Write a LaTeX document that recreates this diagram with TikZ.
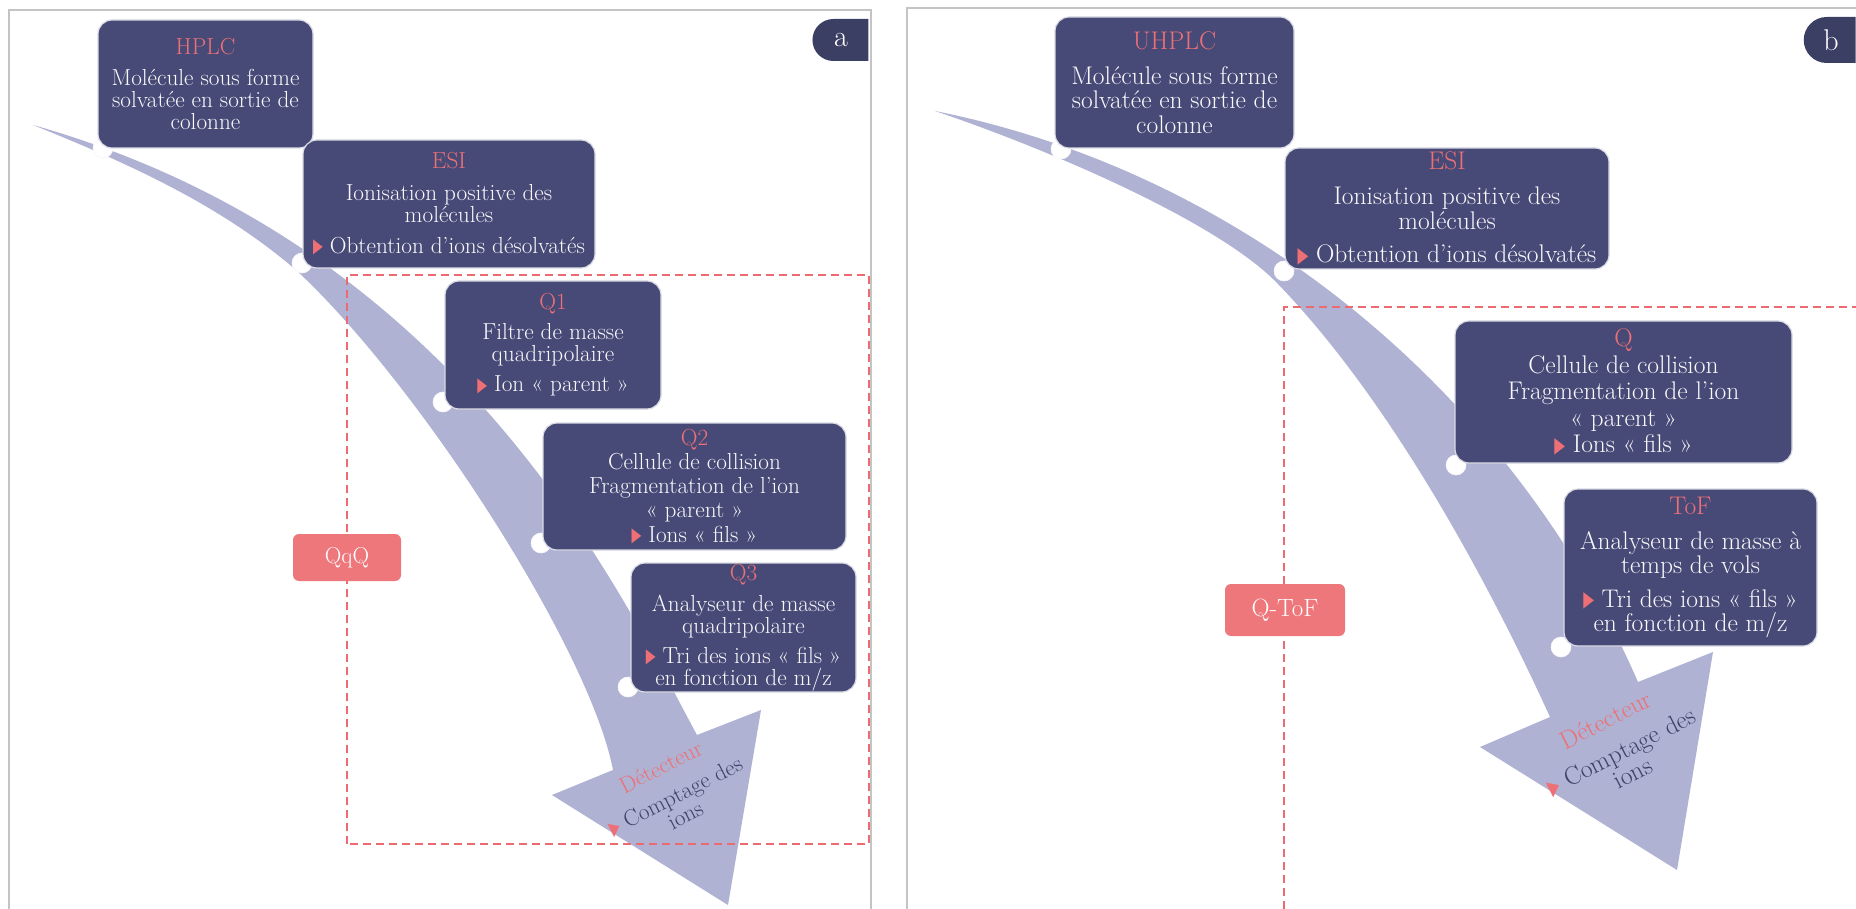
\documentclass[tikz,border=0pt]{standalone}
\usepackage{fontspec}
\newfontfamily\dejavu{DejaVu Sans}
\usetikzlibrary{shapes.misc}
\definecolor{boxc}{HTML}{474A77}
\definecolor{salm}{HTML}{EE7076}
\definecolor{arrowc}{HTML}{AFB2D3}
\definecolor{labelc}{HTML}{ED777B}
\definecolor{dashc}{HTML}{EC6B71}
\definecolor{badgec}{HTML}{3C3F64}
\definecolor{framec}{HTML}{C4C4C4}
\definecolor{detc}{HTML}{3F4268}
\newcommand\mytitle[1]{\textcolor{salm}{#1}}
\newcommand\mybul{{\color{salm}\raisebox{0.05ex}{\scalebox{0.55}[0.85]{\dejavu ▶}}}\hspace{0.3em}}
\begin{document}
\begin{tikzpicture}[x=1pt,y=-1pt,
  boxa/.style={rectangle, rounded corners=14pt, fill=boxc, draw=white!80!boxc, line width=1.2pt, text=white!96!boxc, align=center, inner sep=0pt, font=\fontsize{23.2}{21.9}\selectfont},
  boxb/.style={boxa, font=\fontsize{25.5}{24.3}\selectfont},
  lbl/.style={rectangle, rounded corners=6pt, fill=labelc, text=white, inner sep=0pt},
  dot/.style={circle, fill=white, draw=white!90!arrowc, line width=0.6pt, inner sep=0pt, minimum size=20pt},
  frm/.style={draw=framec, line width=1.5pt},
  dsh/.style={draw=dashc, line width=1.5pt, dash pattern=on 8pt off 5pt},
  badge/.style={rounded rectangle, rounded rectangle right arc=none, fill=badgec, text=white, inner sep=0pt, font=\fontsize{30}{30}\selectfont},
  det/.style={align=center, rotate=27, text=detc, inner sep=0pt}]
\useasboundingbox (0,0) rectangle (1856,909);
\fill[white] (0,0) rectangle (1856,909);
% frames
\draw[frm] (9,909) -- (9,10) -- (871,10) -- (871,909);
\draw[frm] (907,909) -- (907,8) -- (1856,8);
% arrow a
\fill[arrowc] (33,125) .. controls (465,247) and (625,603) .. (697,735)
  -- (761,710) -- (728,905) -- (552,795) -- (613,770)
  .. controls (590,650) and (420,385) .. (296,270)
  .. controls (226,210) and (143,169) .. (33,125) -- cycle;
% arrow b
\fill[arrowc] (935,111) .. controls (1250,174) and (1514,398) .. (1638,682)
  -- (1713,652) -- (1677,870) -- (1480,747) -- (1550,717)
  .. controls (1515,640) and (1410,420) .. (1277,283)
  .. controls (1217,221) and (1045,148) .. (935,111) -- cycle;
% dashed groups
\draw[dsh] (347,844) -- (347,275) -- (869,275) -- (869,844) -- cycle;
\draw[dsh] (1284,909) -- (1284,307) -- (1856,307);
% circles
\node[dot] (da1) at (103,148) {};
\node[dot] (da2) at (302,263) {};
\node[dot] (da3) at (443,402) {};
\node[dot] (da4) at (541,543) {};
\node[dot] (da5) at (628,687) {};
\node[dot] (db1) at (1061,149) {};
\node[dot] (db2) at (1284,271) {};
\node[dot] (db3) at (1456,465) {};
\node[dot] (db4) at (1561,647) {};
% boxes panel a
\node[boxa, minimum width=215pt, minimum height=128pt] (hplc) at (205.5,84) {\mytitle{HPLC}\\[9.3pt] Molécule sous forme\\ solvatée en sortie de\\ colonne};
\node[boxa, minimum width=292pt, minimum height=128pt] (esia) at (449,204) {\mytitle{ESI}\\[9.3pt] Ionisation positive des\\ molécules\\[9.3pt] \mybul Obtention d’ions désolvatés};
\node[boxa, minimum width=216pt, minimum height=128pt] (q1) at (553,345) {\mytitle{Q1}\\[8.3pt] Filtre de masse\\ quadripolaire\\[8.3pt] \mybul Ion «~parent~»};
\node[boxa, minimum width=303pt, minimum height=127pt] (q2) at (694.5,486.5) {\mytitle{Q2}\\[2.6pt] Cellule de collision\\[2.1pt] Fragmentation de l’ion\\[2.1pt] «~parent~»\\[2.6pt] \mybul Ions «~fils~»};
\node[boxa, minimum width=225pt, minimum height=129pt] (q3) at (743.5,627.5) {\mytitle{Q3}\\[9.1pt] Analyseur de masse\\ quadripolaire\\[8.1pt] \mybul Tri des ions «~fils~»\\ en fonction de m/z};
% boxes panel b
\node[boxb, minimum width=239pt, minimum height=131pt] (uhplc) at (1174.5,82.5) {\mytitle{UHPLC}\\[10.7pt] Molécule sous forme\\ solvatée en sortie de\\ colonne};
\node[boxb, minimum width=324pt, minimum height=121pt] (esib) at (1447,208.5) {\mytitle{ESI}\\[10.7pt] Ionisation positive des\\ molécules\\[9.2pt] \mybul Obtention d’ions désolvatés};
\node[boxb, minimum width=337pt, minimum height=142pt] (qb) at (1623.5,392) {\mytitle{Q}\\[2.7pt] Cellule de collision\\[1.7pt] Fragmentation de l’ion\\[2.7pt] «~parent~»\\[1.7pt] \mybul Ions «~fils~»};
\node[boxb, minimum width=253pt, minimum height=157pt] (tof) at (1690.5,567.5) {\mytitle{ToF}\\[10.7pt] Analyseur de masse à\\ temps de vols\\[9.7pt] \mybul Tri des ions «~fils~»\\ en fonction de m/z};
% labels
\node[lbl, minimum width=108pt, minimum height=47pt, font=\fontsize{23}{24}\selectfont] (qqq) at (347,557.5) {QqQ};
\node[lbl, minimum width=120pt, minimum height=52pt, font=\fontsize{25}{26}\selectfont] (qtof) at (1285,610) {Q-ToF};
% detector texts
\node[det, font=\fontsize{23}{22}\selectfont] (deta) at (673,791) {\mytitle{Détecteur}\\[10pt] \mybul Comptage des\\ ions};
\node[det, font=\fontsize{25.5}{24}\selectfont] (detb) at (1619,746) {\mytitle{Détecteur}\\[11pt] \mybul Comptage des\\ ions};
% badges
\node[badge, minimum width=56pt, minimum height=42pt] (bada) at (841,40) {a};
\node[badge, minimum width=52pt, minimum height=46pt] (badb) at (1831,40) {b};
\end{tikzpicture}
\end{document}
